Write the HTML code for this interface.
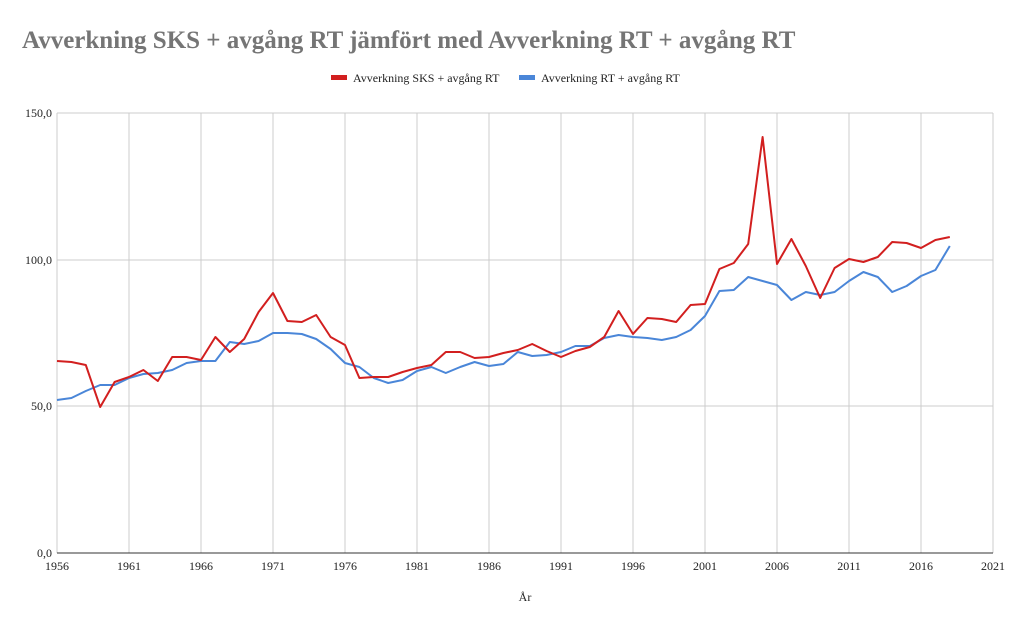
<!DOCTYPE html>
<html><head><meta charset="utf-8"><style>body{margin:0;background:#fff}</style></head><body>
<svg width="1024" height="633" xmlns="http://www.w3.org/2000/svg" font-family="Liberation Serif, serif">
<text x="22" y="48" font-size="25" font-weight="bold" fill="#757575">Avverkning SKS + avgång RT jämfört med Avverkning RT + avgång RT</text>
<rect x="331" y="75" width="16" height="5" fill="#d21f1f"/>
<text x="353" y="82" font-size="12" fill="#222">Avverkning SKS + avgång RT</text>
<rect x="519" y="75" width="16" height="5" fill="#4a86d8"/>
<text x="541" y="82" font-size="12" fill="#222">Avverkning RT + avgång RT</text>
<g stroke="#cccccc" stroke-width="1">
<line x1="57" y1="113" x2="993" y2="113"/><line x1="57" y1="260" x2="993" y2="260"/><line x1="57" y1="406" x2="993" y2="406"/>
<line x1="57" y1="113" x2="57" y2="553"/><line x1="129" y1="113" x2="129" y2="553"/><line x1="201" y1="113" x2="201" y2="553"/><line x1="273" y1="113" x2="273" y2="553"/><line x1="345" y1="113" x2="345" y2="553"/><line x1="417" y1="113" x2="417" y2="553"/><line x1="489" y1="113" x2="489" y2="553"/><line x1="561" y1="113" x2="561" y2="553"/><line x1="633" y1="113" x2="633" y2="553"/><line x1="705" y1="113" x2="705" y2="553"/><line x1="777" y1="113" x2="777" y2="553"/><line x1="849" y1="113" x2="849" y2="553"/><line x1="921" y1="113" x2="921" y2="553"/><line x1="993" y1="113" x2="993" y2="553"/>
</g>
<line x1="57" y1="553" x2="993" y2="553" stroke="#333" stroke-width="1"/>
<g font-size="12" fill="#222" text-anchor="end">
<text x="52" y="117">150,0</text><text x="52" y="264">100,0</text><text x="52" y="410">50,0</text><text x="52" y="557">0,0</text></g>
<g font-size="12" fill="#222" text-anchor="middle">
<text x="57" y="570">1956</text><text x="129" y="570">1961</text><text x="201" y="570">1966</text><text x="273" y="570">1971</text><text x="345" y="570">1976</text><text x="417" y="570">1981</text><text x="489" y="570">1986</text><text x="561" y="570">1991</text><text x="633" y="570">1996</text><text x="705" y="570">2001</text><text x="777" y="570">2006</text><text x="849" y="570">2011</text><text x="921" y="570">2016</text><text x="993" y="570">2021</text>
<text x="525" y="601">År</text></g>
<polyline fill="none" stroke="#4a86d8" stroke-width="2" stroke-linejoin="round" points="57,400 71.4,398 85.8,391 100.2,385 114.6,385 129,378 143.4,374 157.8,373 172.2,370 186.6,363 201,361 215.4,361 229.8,342 244.2,344 258.6,341 273,333 287.4,333 301.8,334 316.2,339 330.6,349 345,363 359.4,367 373.8,378 388.2,383 402.6,380 417,371 431.4,367 445.8,373 460.2,367 474.6,362 489,366 503.4,364 517.8,352 532.2,356 546.6,355 561,352 575.4,346 589.8,346 604.2,338 618.6,335 633,337 647.4,338 661.8,340 676.2,337 690.6,330 705,316 719.4,291 733.8,290 748.2,277 762.6,281 777,285 791.4,300 805.8,292 820.2,295 834.6,292 849,281 863.4,272 877.8,277 892.2,292 906.6,286 921,276 935.4,270 949.8,246"/>
<polyline fill="none" stroke="#d21f1f" stroke-width="2" stroke-linejoin="round" points="57,361 71.4,362 85.8,365 100.2,407 114.6,382 129,377 143.4,370 157.8,381 172.2,357 186.6,357 201,360 215.4,337 229.8,352 244.2,339 258.6,312 273,293 287.4,321 301.8,322 316.2,315 330.6,337 345,345 359.4,378 373.8,377 388.2,377 402.6,372 417,368 431.4,365 445.8,352 460.2,352 474.6,358 489,357 503.4,353 517.8,350 532.2,344 546.6,351 561,357 575.4,351 589.8,347 604.2,337 618.6,311 633,334 647.4,318 661.8,319 676.2,322 690.6,305 705,304 719.4,269 733.8,263 748.2,244 762.6,137 777,264 791.4,239 805.8,266 820.2,298 834.6,268 849,259 863.4,262 877.8,257 892.2,242 906.6,243 921,248 935.4,240 949.8,237"/>
</svg>
</body></html>
